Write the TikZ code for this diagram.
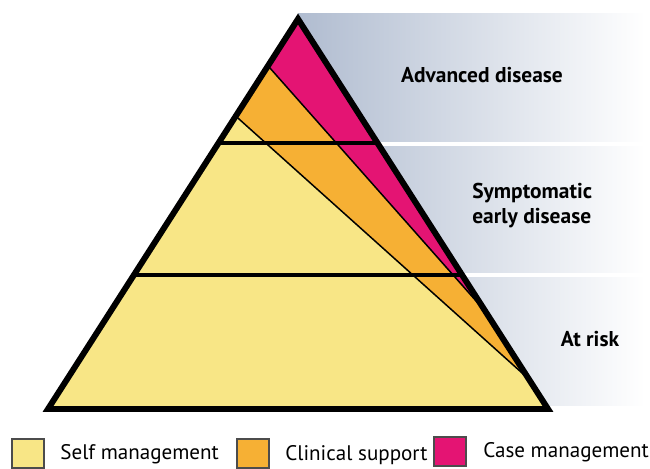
\documentclass[tikz,border=0pt]{standalone}
\usepackage{fontspec}
\setmainfont{PT Sans}
\usetikzlibrary{positioning}
\usetikzlibrary{calc}
\definecolor{selfyellow}{RGB}{248,230,134}
\definecolor{clinorange}{RGB}{246,176,52}
\definecolor{casepink}{RGB}{228,20,115}
\definecolor{bandblue}{RGB}{176,188,208}
\tikzset{band/.style={left color=bandblue,right color=white},
  level/.style={font=\bfseries\fontsize{12.2}{14.2}\selectfont,align=left,inner sep=0pt},
  keybox/.style={draw=black!70,line width=0.6pt,minimum width=0.64cm,minimum height=0.58cm,inner sep=0pt},
  keytext/.style={font=\fontsize{12}{14}\selectfont,anchor=base west,inner sep=0pt}}

\begin{document}
\begin{tikzpicture}[x=0.02cm,y=-0.02cm]
\useasboundingbox (0,0) rectangle (650,468);
% shaded bands behind the pyramid
\shade[band] (298,13) rectangle (645,141.5);
\shade[band] (298,146) rectangle (645,272.5);
\shade[band] (298,277) rectangle (645,405);
\node[level] (adv) at (482,75) {Advanced disease};
\node[level,anchor=north west] (sym) at (472,183) {Symptomatic\\early disease};
\node[level] (risk) at (590,339) {At risk};
% pyramid
\coordinate (apex) at (298,19);
\coordinate (bl) at (48,409);
\coordinate (br) at (548,409);
\coordinate (p1) at ($(apex)!0.12!(bl)$);
\coordinate (p2) at ($(apex)!0.249!(bl)$);
\coordinate (q1) at ($(apex)!0.751!(br)$);
\coordinate (q2) at ($(apex)!0.923!(br)$);
\coordinate (h1l) at ($(apex)!0.318!(bl)$);
\coordinate (h1r) at ($(apex)!0.318!(br)$);
\coordinate (h2l) at ($(apex)!0.656!(bl)$);
\coordinate (h2r) at ($(apex)!0.656!(br)$);
\fill[casepink] (apex) -- (p1) -- (q1) -- cycle;
\fill[clinorange] (p1) -- (p2) -- (q2) -- (q1) -- cycle;
\fill[selfyellow] (p2) -- (bl) -- (br) -- (q2) -- cycle;
\draw[line width=0.85pt] (p1) -- (q1);
\draw[line width=0.85pt] (p2) -- (q2);
\draw[line width=2pt] (h1l) -- (h1r);
\draw[line width=2pt] (h2l) -- (h2r);
\draw[line width=3.4pt,line join=miter] (apex) -- (bl) -- (br) -- cycle;
% legend
\node[keybox,fill=selfyellow] (kself) at (28,453.5) {};
\node[keytext] (tself) at (60,459) {Self management};
\node[keybox,fill=clinorange] (kclin) at (253,453.5) {};
\node[keytext] (tclin) at (285,460) {Clinical support};
\node[keybox,fill=casepink] (kcase) at (450,451.5) {};
\node[keytext] (tcase) at (483,457) {Case management};
\end{tikzpicture}
\end{document}
